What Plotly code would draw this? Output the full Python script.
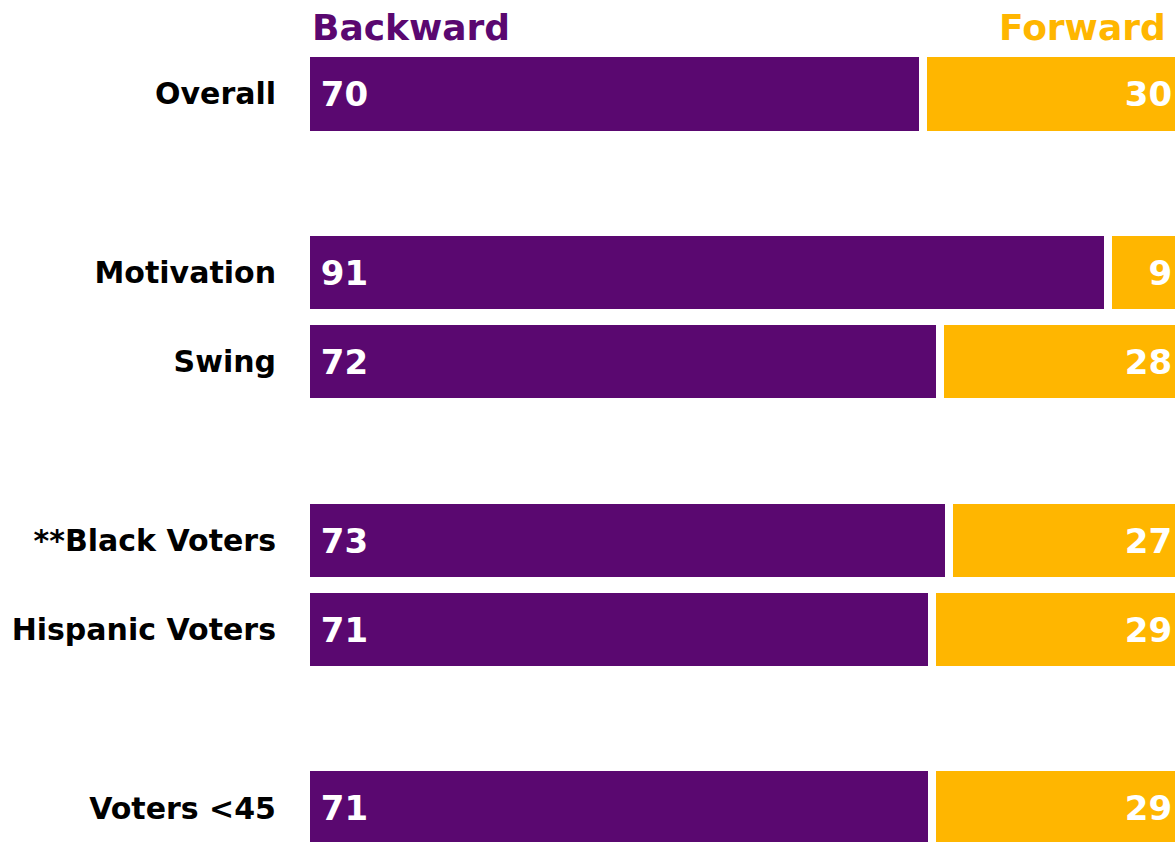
import plotly.graph_objects as go

# data
categories = ["Overall", "Motivation", "Swing", "**Black Voters", "Hispanic Voters", "Voters <45"]
row_pos = [0, 2, 3, 5, 6, 8]
backward = [70, 91, 72, 73, 71, 71]
forward = [30, 9, 28, 27, 29, 29]

purple = "#5A0870"
orange = "#FFB600"
font_family = "DejaVu Sans"
nb = "\u00a0"

fig = go.Figure()
fig.add_trace(go.Bar(
    y=row_pos, x=backward, orientation="h", name="Backward",
    marker=dict(color=purple, line=dict(color="white", width=8)),
    width=0.91,
    text=backward, textposition="inside", insidetextanchor="start",
    textfont=dict(color="white", size=34, family=font_family),
    texttemplate="<b>" + nb + "%{text}</b>",
))
fig.add_trace(go.Bar(
    y=row_pos, x=forward, orientation="h", name="Forward",
    marker=dict(color=orange, line=dict(color="white", width=8)),
    width=0.91,
    text=forward, textposition="inside", insidetextanchor="end",
    textfont=dict(color="white", size=34, family=font_family),
    texttemplate="<b>%{text}" + nb + "</b>",
))

fig.add_annotation(x=0.4, y=-0.75, xref="x", yref="y", text="<b>Backward</b>",
                   showarrow=False, xanchor="left",
                   font=dict(color=purple, size=36, family=font_family))
fig.add_annotation(x=97.9, y=-0.75, xref="x", yref="y", text="<b>Forward</b>",
                   showarrow=False, xanchor="right",
                   font=dict(color=orange, size=36, family=font_family))

fig.update_layout(
    barmode="stack",
    bargap=0,
    width=1175, height=842,
    margin=dict(l=306, r=0, t=0, b=0),
    plot_bgcolor="white", paper_bgcolor="white",
    showlegend=False,
    uniformtext=dict(mode=False),
    xaxis=dict(range=[0, 98.64], visible=False),
    yaxis=dict(
        range=[8.381, -1.053],
        tickvals=row_pos,
        ticktext=["<b>" + c + "</b>" for c in categories],
        tickfont=dict(color="black", size=30, family=font_family),
        showgrid=False, zeroline=False, showline=False,
        ticks="", ticklabelstandoff=29,
    ),
)

fig.write_html("out.html", config={"displayModeBar": False},
               post_script="document.body.style.margin='0';")
